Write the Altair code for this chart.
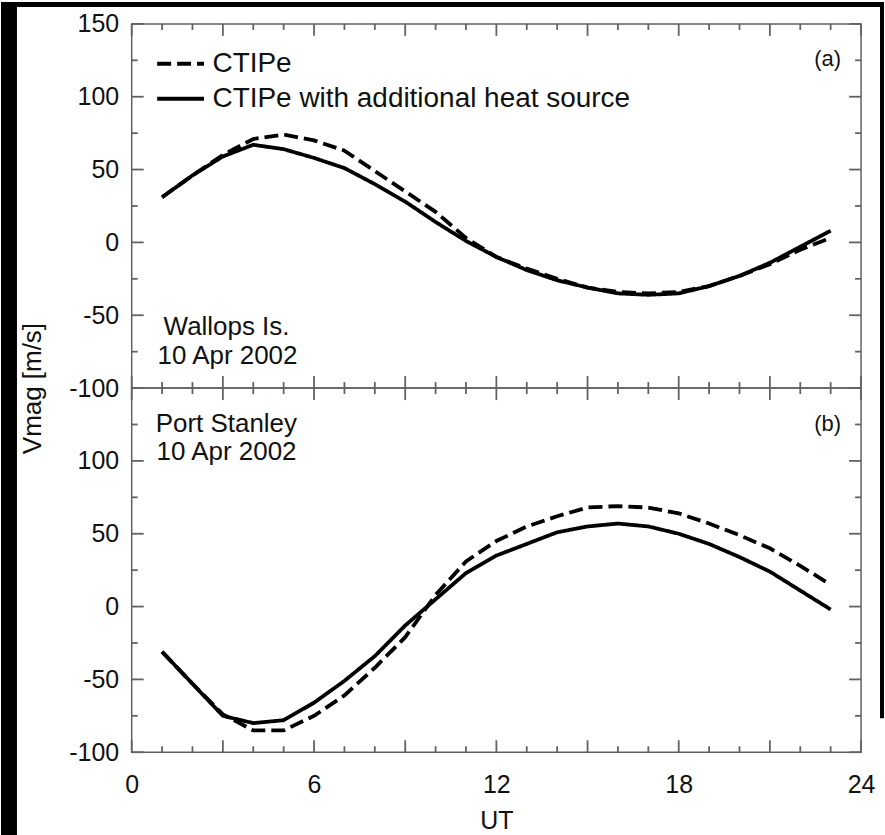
import altair as alt
import pandas as pd

# ---------------- data ----------------
UT = list(range(1, 24))
SERIES = ["CTIPe", "CTIPe with additional heat source"]

wallops_ctipe = [31, 46, 60, 71, 74, 70, 63, 49, 35, 21, 3, -10, -18, -25, -31, -34, -35, -34, -30, -23, -15, -5, 3]
wallops_heat = [31, 46, 59, 67, 64, 58, 51, 40, 28, 14, 1, -10, -19, -26, -31, -35, -36, -35, -30, -23, -14, -3, 8]
stanley_ctipe = [-31, -53, -74, -85, -85, -75, -61, -42, -21, 8, 31, 45, 55, 62, 68, 69, 68, 64, 57, 49, 40, 28, 15]
stanley_heat = [-31, -53, -75, -80, -78, -66, -51, -34, -13, 5, 23, 35, 43, 51, 55, 57, 55, 50, 43, 34, 24, 11, -2]

x_major = [0, 3, 6, 9, 12, 15, 18, 21, 24]
x_minor = [v for v in range(25) if v % 3]
x_labels = [0, 6, 12, 18, 24]
y_major = [-100, -50, 0, 50, 100, 150]
y_minor = [-75, -25, 25, 75, 125]
y_labels_top = [-100, -50, 0, 50, 100, 150]
y_labels_bottom = [-100, -50, 0, 50, 100]

ann_top = pd.DataFrame({
    "x": [1.05, 0.85, 23.34],
    "y": [-58, -78, 126],
    "label": ["Wallops Is.", "10 Apr 2002", "(a)"],
    "size": ["big", "big", "small"],
})
ann_bottom = pd.DataFrame({
    "x": [0.79, 0.82, 23.34],
    "y": [125, 106, 125],
    "label": ["Port Stanley", "10 Apr 2002", "(b)"],
    "size": ["big", "big", "small"],
})


def long_df(a, b):
    return pd.DataFrame({
        "UT": UT + UT,
        "V": a + b,
        "series": [SERIES[0]] * len(UT) + [SERIES[1]] * len(UT),
    })


df_top = long_df(wallops_ctipe, wallops_heat)
df_bottom = long_df(stanley_ctipe, stanley_heat)

# ---------------- style ----------------
W, H = 731, 365
FONT = "Liberation Sans"
INK = "#111111"
FRAME = "#626262"
DASH = [14, 6]

xs = alt.Scale(domain=[0, 24], nice=False, zero=False)
ys = alt.Scale(domain=[-100, 150], nice=False, zero=False)
MINUS = "datum.value < 0 ? '-' + abs(datum.value) : '' + datum.value"


def y_label_axis(values, title):
    kw = dict(orient="left", values=values, ticks=False, tickSize=0, domain=False,
              grid=False, labelPadding=13, labelFontSize=25, labelFont=FONT,
              labelColor=INK, labelExpr=MINUS)
    if title:
        kw.update(title=title, titleFontSize=26, titleFont=FONT, titleFontWeight="normal",
                  titleColor=INK, titleX=-91, titleY=H, titleAngle=270,
                  titleAlign="center", titleBaseline="alphabetic")
    else:
        kw.update(title=None)
    return alt.Axis(**kw)


x_label_axis = alt.Axis(orient="bottom", values=x_labels, ticks=False, tickSize=0, domain=False,
                        grid=False, labelPadding=20, labelFontSize=25, labelFont=FONT,
                        labelColor=INK, labelFlush=False, title="UT", titleFontSize=25,
                        titleFont=FONT, titleFontWeight="normal", titleColor=INK,
                        titlePadding=11)


def x_ticks(values, length):
    d = pd.DataFrame({"t": values})
    bottom = alt.Chart(d).mark_rule(color=FRAME, strokeWidth=1.8).encode(
        x=alt.X("t:Q", scale=xs, axis=None), y=alt.value(H), y2=alt.value(H - length))
    top = alt.Chart(d).mark_rule(color=FRAME, strokeWidth=1.8).encode(
        x=alt.X("t:Q", scale=xs, axis=None), y=alt.value(0), y2=alt.value(length))
    return [bottom, top]


def y_ticks(values, length):
    d = pd.DataFrame({"t": values})
    left = alt.Chart(d).mark_rule(color=FRAME, strokeWidth=1.8).encode(
        y=alt.Y("t:Q", scale=ys, axis=None), x=alt.value(0), x2=alt.value(length))
    right = alt.Chart(d).mark_rule(color=FRAME, strokeWidth=1.8).encode(
        y=alt.Y("t:Q", scale=ys, axis=None), x=alt.value(W), x2=alt.value(W - length))
    return [left, right]


def panel(df, ann, top):
    base = alt.Chart(df)
    legend = None
    if top:
        legend = alt.Legend(orient="none", legendX=35, legendY=26, title=None,
                            symbolType="M-2.5,0H2.5", symbolSize=353, symbolStrokeWidth=4,
                            symbolStrokeColor="black", labelFontSize=28, labelFont=FONT,
                            labelColor=INK, labelLimit=900, labelOffset=18, rowPadding=7,
                            padding=0)
    lines = base.mark_line(color="black", strokeWidth=3.8).encode(
        x=alt.X("UT:Q", scale=xs, axis=None if top else x_label_axis),
        y=alt.Y("V:Q", scale=ys,
                axis=y_label_axis(y_labels_top if top else y_labels_bottom,
                                  "Vmag [m/s]" if top else None)),
        strokeDash=alt.StrokeDash("series:N",
                                  scale=alt.Scale(domain=SERIES, range=[DASH, [1, 0]]),
                                  legend=legend),
    )
    big = alt.Chart(ann[ann["size"] == "big"]).mark_text(
        align="left", baseline="middle", fontSize=26, font=FONT, color=INK).encode(
        x=alt.X("x:Q", scale=xs, axis=None), y=alt.Y("y:Q", scale=ys, axis=None), text="label:N")
    small = alt.Chart(ann[ann["size"] == "small"]).mark_text(
        align="right", baseline="middle", fontSize=22, font=FONT, color=INK).encode(
        x=alt.X("x:Q", scale=xs, axis=None), y=alt.Y("y:Q", scale=ys, axis=None), text="label:N")

    ticks = x_ticks(x_major, 12) + x_ticks(x_minor, 6) + y_ticks(y_major, 12) + y_ticks(y_minor, 6)
    layers = ticks + [lines, big, small]
    if top:
        one = pd.DataFrame({"k": [0]})
        left_strip = alt.Chart(one).mark_rect(color="black").encode(
            x=alt.value(-131), x2=alt.value(-115), y=alt.value(-22), y2=alt.value(813))
        top_strip = alt.Chart(one).mark_rect(color="black").encode(
            x=alt.value(-131), x2=alt.value(754), y=alt.value(-22), y2=alt.value(-17))
        right_strip = alt.Chart(one).mark_rect(color="black").encode(
            x=alt.value(750), x2=alt.value(754), y=alt.value(-22), y2=alt.value(696))
        layers = [left_strip, top_strip, right_strip] + layers
    return alt.layer(*layers).resolve_axis(x="independent", y="independent").properties(
        width=W, height=H)


chart = alt.vconcat(panel(df_top, ann_top, True), panel(df_bottom, ann_bottom, False),
                    spacing=0, bounds="flush").resolve_legend(
    strokeDash="independent").properties(padding=0).configure(
    background="white", font=FONT).configure_view(stroke=FRAME, strokeWidth=1.5)

chart.save("out.html", embed_options={"renderer": "svg", "actions": False})
